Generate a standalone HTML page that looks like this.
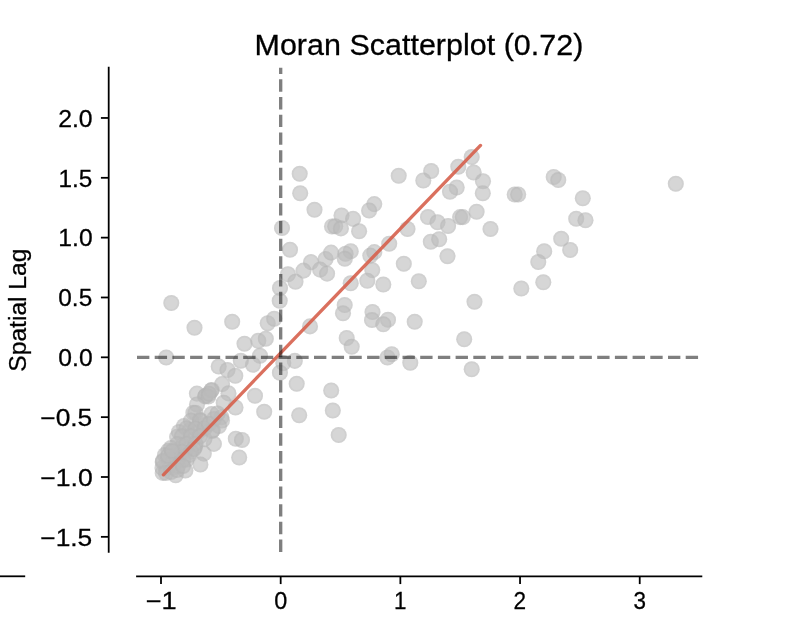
<!DOCTYPE html><html><head><meta charset="utf-8"><style>html,body{margin:0;padding:0;background:#fff;}svg{display:block;}text{font-family:"Liberation Sans",sans-serif;font-kerning:none;fill:#000;stroke:#000;stroke-width:0.28px;}svg{will-change:transform;}.f{fill:#bababa;fill-opacity:.6}.r{fill:none;stroke:#a0a0a0;stroke-opacity:.1;stroke-width:1.6}</style></head><body>
<svg width="797" height="618" viewBox="0 0 797 618">
<rect width="797" height="618" fill="#fff"/>
<g>
<circle class="f" cx="299.70" cy="173.80" r="8.05"/><circle class="r" cx="299.70" cy="173.80" r="7.1"/>
<circle class="f" cx="300.20" cy="193.30" r="8.05"/><circle class="r" cx="300.20" cy="193.30" r="7.1"/>
<circle class="f" cx="314.50" cy="209.70" r="8.05"/><circle class="r" cx="314.50" cy="209.70" r="7.1"/>
<circle class="f" cx="374.30" cy="204.10" r="8.05"/><circle class="r" cx="374.30" cy="204.10" r="7.1"/>
<circle class="f" cx="369.10" cy="210.50" r="8.05"/><circle class="r" cx="369.10" cy="210.50" r="7.1"/>
<circle class="f" cx="341.50" cy="215.50" r="8.05"/><circle class="r" cx="341.50" cy="215.50" r="7.1"/>
<circle class="f" cx="353.10" cy="218.90" r="8.05"/><circle class="r" cx="353.10" cy="218.90" r="7.1"/>
<circle class="f" cx="282.00" cy="228.00" r="8.05"/><circle class="r" cx="282.00" cy="228.00" r="7.1"/>
<circle class="f" cx="332.00" cy="226.50" r="8.05"/><circle class="r" cx="332.00" cy="226.50" r="7.1"/>
<circle class="f" cx="335.20" cy="226.30" r="8.05"/><circle class="r" cx="335.20" cy="226.30" r="7.1"/>
<circle class="f" cx="340.90" cy="228.40" r="8.05"/><circle class="r" cx="340.90" cy="228.40" r="7.1"/>
<circle class="f" cx="359.10" cy="231.20" r="8.05"/><circle class="r" cx="359.10" cy="231.20" r="7.1"/>
<circle class="f" cx="398.70" cy="175.80" r="8.05"/><circle class="r" cx="398.70" cy="175.80" r="7.1"/>
<circle class="f" cx="431.20" cy="171.00" r="8.05"/><circle class="r" cx="431.20" cy="171.00" r="7.1"/>
<circle class="f" cx="423.30" cy="180.50" r="8.05"/><circle class="r" cx="423.30" cy="180.50" r="7.1"/>
<circle class="f" cx="458.30" cy="166.70" r="8.05"/><circle class="r" cx="458.30" cy="166.70" r="7.1"/>
<circle class="f" cx="471.70" cy="157.00" r="8.05"/><circle class="r" cx="471.70" cy="157.00" r="7.1"/>
<circle class="f" cx="473.70" cy="172.50" r="8.05"/><circle class="r" cx="473.70" cy="172.50" r="7.1"/>
<circle class="f" cx="483.00" cy="181.20" r="8.05"/><circle class="r" cx="483.00" cy="181.20" r="7.1"/>
<circle class="f" cx="456.70" cy="187.50" r="8.05"/><circle class="r" cx="456.70" cy="187.50" r="7.1"/>
<circle class="f" cx="450.00" cy="191.70" r="8.05"/><circle class="r" cx="450.00" cy="191.70" r="7.1"/>
<circle class="f" cx="482.80" cy="193.30" r="8.05"/><circle class="r" cx="482.80" cy="193.30" r="7.1"/>
<circle class="f" cx="428.00" cy="217.00" r="8.05"/><circle class="r" cx="428.00" cy="217.00" r="7.1"/>
<circle class="f" cx="437.50" cy="222.20" r="8.05"/><circle class="r" cx="437.50" cy="222.20" r="7.1"/>
<circle class="f" cx="448.10" cy="226.00" r="8.05"/><circle class="r" cx="448.10" cy="226.00" r="7.1"/>
<circle class="f" cx="407.50" cy="229.00" r="8.05"/><circle class="r" cx="407.50" cy="229.00" r="7.1"/>
<circle class="f" cx="490.50" cy="229.00" r="8.05"/><circle class="r" cx="490.50" cy="229.00" r="7.1"/>
<circle class="f" cx="476.60" cy="211.70" r="8.05"/><circle class="r" cx="476.60" cy="211.70" r="7.1"/>
<circle class="f" cx="460.10" cy="217.10" r="8.05"/><circle class="r" cx="460.10" cy="217.10" r="7.1"/>
<circle class="f" cx="462.80" cy="217.10" r="8.05"/><circle class="r" cx="462.80" cy="217.10" r="7.1"/>
<circle class="f" cx="514.70" cy="194.50" r="8.05"/><circle class="r" cx="514.70" cy="194.50" r="7.1"/>
<circle class="f" cx="518.20" cy="194.50" r="8.05"/><circle class="r" cx="518.20" cy="194.50" r="7.1"/>
<circle class="f" cx="553.70" cy="177.00" r="8.05"/><circle class="r" cx="553.70" cy="177.00" r="7.1"/>
<circle class="f" cx="558.30" cy="180.00" r="8.05"/><circle class="r" cx="558.30" cy="180.00" r="7.1"/>
<circle class="f" cx="582.80" cy="198.30" r="8.05"/><circle class="r" cx="582.80" cy="198.30" r="7.1"/>
<circle class="f" cx="576.20" cy="218.70" r="8.05"/><circle class="r" cx="576.20" cy="218.70" r="7.1"/>
<circle class="f" cx="585.50" cy="220.20" r="8.05"/><circle class="r" cx="585.50" cy="220.20" r="7.1"/>
<circle class="f" cx="561.20" cy="238.70" r="8.05"/><circle class="r" cx="561.20" cy="238.70" r="7.1"/>
<circle class="f" cx="544.20" cy="251.20" r="8.05"/><circle class="r" cx="544.20" cy="251.20" r="7.1"/>
<circle class="f" cx="570.20" cy="250.00" r="8.05"/><circle class="r" cx="570.20" cy="250.00" r="7.1"/>
<circle class="f" cx="675.80" cy="183.80" r="8.05"/><circle class="r" cx="675.80" cy="183.80" r="7.1"/>
<circle class="f" cx="171.30" cy="303.00" r="8.05"/><circle class="r" cx="171.30" cy="303.00" r="7.1"/>
<circle class="f" cx="194.50" cy="327.70" r="8.05"/><circle class="r" cx="194.50" cy="327.70" r="7.1"/>
<circle class="f" cx="232.20" cy="321.70" r="8.05"/><circle class="r" cx="232.20" cy="321.70" r="7.1"/>
<circle class="f" cx="267.70" cy="323.30" r="8.05"/><circle class="r" cx="267.70" cy="323.30" r="7.1"/>
<circle class="f" cx="274.20" cy="318.80" r="8.05"/><circle class="r" cx="274.20" cy="318.80" r="7.1"/>
<circle class="f" cx="290.00" cy="249.70" r="8.05"/><circle class="r" cx="290.00" cy="249.70" r="7.1"/>
<circle class="f" cx="311.00" cy="262.10" r="8.05"/><circle class="r" cx="311.00" cy="262.10" r="7.1"/>
<circle class="f" cx="325.60" cy="259.10" r="8.05"/><circle class="r" cx="325.60" cy="259.10" r="7.1"/>
<circle class="f" cx="331.10" cy="252.60" r="8.05"/><circle class="r" cx="331.10" cy="252.60" r="7.1"/>
<circle class="f" cx="350.70" cy="251.20" r="8.05"/><circle class="r" cx="350.70" cy="251.20" r="7.1"/>
<circle class="f" cx="345.50" cy="253.80" r="8.05"/><circle class="r" cx="345.50" cy="253.80" r="7.1"/>
<circle class="f" cx="344.80" cy="258.70" r="8.05"/><circle class="r" cx="344.80" cy="258.70" r="7.1"/>
<circle class="f" cx="374.30" cy="252.10" r="8.05"/><circle class="r" cx="374.30" cy="252.10" r="7.1"/>
<circle class="f" cx="370.30" cy="255.60" r="8.05"/><circle class="r" cx="370.30" cy="255.60" r="7.1"/>
<circle class="f" cx="389.20" cy="243.70" r="8.05"/><circle class="r" cx="389.20" cy="243.70" r="7.1"/>
<circle class="f" cx="403.80" cy="263.80" r="8.05"/><circle class="r" cx="403.80" cy="263.80" r="7.1"/>
<circle class="f" cx="288.00" cy="274.20" r="8.05"/><circle class="r" cx="288.00" cy="274.20" r="7.1"/>
<circle class="f" cx="303.50" cy="270.60" r="8.05"/><circle class="r" cx="303.50" cy="270.60" r="7.1"/>
<circle class="f" cx="320.10" cy="269.60" r="8.05"/><circle class="r" cx="320.10" cy="269.60" r="7.1"/>
<circle class="f" cx="327.10" cy="273.60" r="8.05"/><circle class="r" cx="327.10" cy="273.60" r="7.1"/>
<circle class="f" cx="295.50" cy="281.70" r="8.05"/><circle class="r" cx="295.50" cy="281.70" r="7.1"/>
<circle class="f" cx="280.00" cy="288.00" r="8.05"/><circle class="r" cx="280.00" cy="288.00" r="7.1"/>
<circle class="f" cx="279.70" cy="300.80" r="8.05"/><circle class="r" cx="279.70" cy="300.80" r="7.1"/>
<circle class="f" cx="372.30" cy="270.10" r="8.05"/><circle class="r" cx="372.30" cy="270.10" r="7.1"/>
<circle class="f" cx="367.30" cy="280.70" r="8.05"/><circle class="r" cx="367.30" cy="280.70" r="7.1"/>
<circle class="f" cx="350.70" cy="283.20" r="8.05"/><circle class="r" cx="350.70" cy="283.20" r="7.1"/>
<circle class="f" cx="383.30" cy="284.50" r="8.05"/><circle class="r" cx="383.30" cy="284.50" r="7.1"/>
<circle class="f" cx="344.70" cy="305.00" r="8.05"/><circle class="r" cx="344.70" cy="305.00" r="7.1"/>
<circle class="f" cx="343.00" cy="313.30" r="8.05"/><circle class="r" cx="343.00" cy="313.30" r="7.1"/>
<circle class="f" cx="372.50" cy="312.00" r="8.05"/><circle class="r" cx="372.50" cy="312.00" r="7.1"/>
<circle class="f" cx="372.00" cy="320.00" r="8.05"/><circle class="r" cx="372.00" cy="320.00" r="7.1"/>
<circle class="f" cx="388.00" cy="319.70" r="8.05"/><circle class="r" cx="388.00" cy="319.70" r="7.1"/>
<circle class="f" cx="383.30" cy="324.20" r="8.05"/><circle class="r" cx="383.30" cy="324.20" r="7.1"/>
<circle class="f" cx="310.00" cy="326.40" r="8.05"/><circle class="r" cx="310.00" cy="326.40" r="7.1"/>
<circle class="f" cx="430.80" cy="241.70" r="8.05"/><circle class="r" cx="430.80" cy="241.70" r="7.1"/>
<circle class="f" cx="439.20" cy="239.20" r="8.05"/><circle class="r" cx="439.20" cy="239.20" r="7.1"/>
<circle class="f" cx="447.50" cy="256.20" r="8.05"/><circle class="r" cx="447.50" cy="256.20" r="7.1"/>
<circle class="f" cx="418.80" cy="281.30" r="8.05"/><circle class="r" cx="418.80" cy="281.30" r="7.1"/>
<circle class="f" cx="474.50" cy="301.80" r="8.05"/><circle class="r" cx="474.50" cy="301.80" r="7.1"/>
<circle class="f" cx="414.70" cy="321.70" r="8.05"/><circle class="r" cx="414.70" cy="321.70" r="7.1"/>
<circle class="f" cx="538.30" cy="262.00" r="8.05"/><circle class="r" cx="538.30" cy="262.00" r="7.1"/>
<circle class="f" cx="543.30" cy="282.20" r="8.05"/><circle class="r" cx="543.30" cy="282.20" r="7.1"/>
<circle class="f" cx="521.30" cy="288.50" r="8.05"/><circle class="r" cx="521.30" cy="288.50" r="7.1"/>
<circle class="f" cx="166.20" cy="357.50" r="8.05"/><circle class="r" cx="166.20" cy="357.50" r="7.1"/>
<circle class="f" cx="244.50" cy="343.70" r="8.05"/><circle class="r" cx="244.50" cy="343.70" r="7.1"/>
<circle class="f" cx="258.30" cy="340.80" r="8.05"/><circle class="r" cx="258.30" cy="340.80" r="7.1"/>
<circle class="f" cx="265.80" cy="338.70" r="8.05"/><circle class="r" cx="265.80" cy="338.70" r="7.1"/>
<circle class="f" cx="260.00" cy="355.80" r="8.05"/><circle class="r" cx="260.00" cy="355.80" r="7.1"/>
<circle class="f" cx="253.00" cy="364.70" r="8.05"/><circle class="r" cx="253.00" cy="364.70" r="7.1"/>
<circle class="f" cx="240.80" cy="360.80" r="8.05"/><circle class="r" cx="240.80" cy="360.80" r="7.1"/>
<circle class="f" cx="218.70" cy="366.50" r="8.05"/><circle class="r" cx="218.70" cy="366.50" r="7.1"/>
<circle class="f" cx="227.50" cy="370.00" r="8.05"/><circle class="r" cx="227.50" cy="370.00" r="7.1"/>
<circle class="f" cx="235.30" cy="375.80" r="8.05"/><circle class="r" cx="235.30" cy="375.80" r="7.1"/>
<circle class="f" cx="255.00" cy="395.80" r="8.05"/><circle class="r" cx="255.00" cy="395.80" r="7.1"/>
<circle class="f" cx="264.20" cy="411.70" r="8.05"/><circle class="r" cx="264.20" cy="411.70" r="7.1"/>
<circle class="f" cx="235.50" cy="407.50" r="8.05"/><circle class="r" cx="235.50" cy="407.50" r="7.1"/>
<circle class="f" cx="346.70" cy="338.00" r="8.05"/><circle class="r" cx="346.70" cy="338.00" r="7.1"/>
<circle class="f" cx="351.70" cy="346.70" r="8.05"/><circle class="r" cx="351.70" cy="346.70" r="7.1"/>
<circle class="f" cx="294.80" cy="360.90" r="8.05"/><circle class="r" cx="294.80" cy="360.90" r="7.1"/>
<circle class="f" cx="283.30" cy="363.10" r="8.05"/><circle class="r" cx="283.30" cy="363.10" r="7.1"/>
<circle class="f" cx="279.90" cy="372.70" r="8.05"/><circle class="r" cx="279.90" cy="372.70" r="7.1"/>
<circle class="f" cx="296.70" cy="383.80" r="8.05"/><circle class="r" cx="296.70" cy="383.80" r="7.1"/>
<circle class="f" cx="331.20" cy="390.50" r="8.05"/><circle class="r" cx="331.20" cy="390.50" r="7.1"/>
<circle class="f" cx="332.80" cy="410.50" r="8.05"/><circle class="r" cx="332.80" cy="410.50" r="7.1"/>
<circle class="f" cx="299.20" cy="415.30" r="8.05"/><circle class="r" cx="299.20" cy="415.30" r="7.1"/>
<circle class="f" cx="387.50" cy="357.50" r="8.05"/><circle class="r" cx="387.50" cy="357.50" r="7.1"/>
<circle class="f" cx="391.70" cy="354.20" r="8.05"/><circle class="r" cx="391.70" cy="354.20" r="7.1"/>
<circle class="f" cx="464.20" cy="339.20" r="8.05"/><circle class="r" cx="464.20" cy="339.20" r="7.1"/>
<circle class="f" cx="410.30" cy="362.80" r="8.05"/><circle class="r" cx="410.30" cy="362.80" r="7.1"/>
<circle class="f" cx="471.70" cy="369.20" r="8.05"/><circle class="r" cx="471.70" cy="369.20" r="7.1"/>
<circle class="f" cx="338.70" cy="435.00" r="8.05"/><circle class="r" cx="338.70" cy="435.00" r="7.1"/>
<circle class="f" cx="235.80" cy="438.70" r="8.05"/><circle class="r" cx="235.80" cy="438.70" r="7.1"/>
<circle class="f" cx="242.00" cy="440.00" r="8.05"/><circle class="r" cx="242.00" cy="440.00" r="7.1"/>
<circle class="f" cx="239.20" cy="457.50" r="8.05"/><circle class="r" cx="239.20" cy="457.50" r="7.1"/>
<circle class="f" cx="222.10" cy="384.10" r="8.05"/><circle class="r" cx="222.10" cy="384.10" r="7.1"/>
<circle class="f" cx="228.50" cy="393.40" r="8.05"/><circle class="r" cx="228.50" cy="393.40" r="7.1"/>
<circle class="f" cx="196.90" cy="393.60" r="8.05"/><circle class="r" cx="196.90" cy="393.60" r="7.1"/>
<circle class="f" cx="205.10" cy="396.40" r="8.05"/><circle class="r" cx="205.10" cy="396.40" r="7.1"/>
<circle class="f" cx="205.70" cy="395.80" r="8.05"/><circle class="r" cx="205.70" cy="395.80" r="7.1"/>
<circle class="f" cx="211.10" cy="390.60" r="8.05"/><circle class="r" cx="211.10" cy="390.60" r="7.1"/>
<circle class="f" cx="211.70" cy="390.00" r="8.05"/><circle class="r" cx="211.70" cy="390.00" r="7.1"/>
<circle class="f" cx="223.70" cy="402.70" r="8.05"/><circle class="r" cx="223.70" cy="402.70" r="7.1"/>
<circle class="f" cx="197.00" cy="404.50" r="8.05"/><circle class="r" cx="197.00" cy="404.50" r="7.1"/>
<circle class="f" cx="193.40" cy="412.80" r="8.05"/><circle class="r" cx="193.40" cy="412.80" r="7.1"/>
<circle class="f" cx="211.60" cy="414.00" r="8.05"/><circle class="r" cx="211.60" cy="414.00" r="7.1"/>
<circle class="f" cx="221.30" cy="417.20" r="8.05"/><circle class="r" cx="221.30" cy="417.20" r="7.1"/>
<circle class="f" cx="184.00" cy="426.00" r="8.05"/><circle class="r" cx="184.00" cy="426.00" r="7.1"/>
<circle class="f" cx="177.10" cy="436.90" r="8.05"/><circle class="r" cx="177.10" cy="436.90" r="7.1"/>
<circle class="f" cx="168.40" cy="450.70" r="8.05"/><circle class="r" cx="168.40" cy="450.70" r="7.1"/>
<circle class="f" cx="222.00" cy="420.50" r="8.05"/><circle class="r" cx="222.00" cy="420.50" r="7.1"/>
<circle class="f" cx="212.90" cy="430.10" r="8.05"/><circle class="r" cx="212.90" cy="430.10" r="7.1"/>
<circle class="f" cx="213.90" cy="443.90" r="8.05"/><circle class="r" cx="213.90" cy="443.90" r="7.1"/>
<circle class="f" cx="203.80" cy="453.60" r="8.05"/><circle class="r" cx="203.80" cy="453.60" r="7.1"/>
<circle class="f" cx="200.40" cy="464.50" r="8.05"/><circle class="r" cx="200.40" cy="464.50" r="7.1"/>
<circle class="f" cx="204.40" cy="439.00" r="8.05"/><circle class="r" cx="204.40" cy="439.00" r="7.1"/>
<circle class="f" cx="162.70" cy="472.90" r="8.05"/><circle class="r" cx="162.70" cy="472.90" r="7.1"/>
<circle class="f" cx="175.70" cy="475.30" r="8.05"/><circle class="r" cx="175.70" cy="475.30" r="7.1"/>
<circle class="f" cx="185.40" cy="470.50" r="8.05"/><circle class="r" cx="185.40" cy="470.50" r="7.1"/>
<circle class="f" cx="162.70" cy="462.00" r="8.05"/><circle class="r" cx="162.70" cy="462.00" r="7.1"/>
<circle class="f" cx="179.00" cy="432.00" r="8.05"/><circle class="r" cx="179.00" cy="432.00" r="7.1"/>
<circle class="f" cx="170.00" cy="465.00" r="8.05"/><circle class="r" cx="170.00" cy="465.00" r="7.1"/>
<circle class="f" cx="178.00" cy="458.00" r="8.05"/><circle class="r" cx="178.00" cy="458.00" r="7.1"/>
<circle class="f" cx="186.00" cy="450.00" r="8.05"/><circle class="r" cx="186.00" cy="450.00" r="7.1"/>
<circle class="f" cx="192.00" cy="440.00" r="8.05"/><circle class="r" cx="192.00" cy="440.00" r="7.1"/>
<circle class="f" cx="198.00" cy="432.00" r="8.05"/><circle class="r" cx="198.00" cy="432.00" r="7.1"/>
<circle class="f" cx="205.00" cy="425.00" r="8.05"/><circle class="r" cx="205.00" cy="425.00" r="7.1"/>
<circle class="f" cx="190.00" cy="430.00" r="8.05"/><circle class="r" cx="190.00" cy="430.00" r="7.1"/>
<circle class="f" cx="183.00" cy="445.00" r="8.05"/><circle class="r" cx="183.00" cy="445.00" r="7.1"/>
<circle class="f" cx="175.00" cy="455.00" r="8.05"/><circle class="r" cx="175.00" cy="455.00" r="7.1"/>
<circle class="f" cx="195.00" cy="447.00" r="8.05"/><circle class="r" cx="195.00" cy="447.00" r="7.1"/>
<circle class="f" cx="200.00" cy="420.00" r="8.05"/><circle class="r" cx="200.00" cy="420.00" r="7.1"/>
<circle class="f" cx="195.50" cy="412.79" r="8.05"/><circle class="r" cx="195.50" cy="412.79" r="7.1"/>
<circle class="f" cx="191.00" cy="420.59" r="8.05"/><circle class="r" cx="191.00" cy="420.59" r="7.1"/>
<circle class="f" cx="200.00" cy="420.59" r="8.05"/><circle class="r" cx="200.00" cy="420.59" r="7.1"/>
<circle class="f" cx="186.50" cy="428.38" r="8.05"/><circle class="r" cx="186.50" cy="428.38" r="7.1"/>
<circle class="f" cx="195.50" cy="428.38" r="8.05"/><circle class="r" cx="195.50" cy="428.38" r="7.1"/>
<circle class="f" cx="204.50" cy="428.38" r="8.05"/><circle class="r" cx="204.50" cy="428.38" r="7.1"/>
<circle class="f" cx="182.00" cy="436.18" r="8.05"/><circle class="r" cx="182.00" cy="436.18" r="7.1"/>
<circle class="f" cx="191.00" cy="436.18" r="8.05"/><circle class="r" cx="191.00" cy="436.18" r="7.1"/>
<circle class="f" cx="200.00" cy="436.18" r="8.05"/><circle class="r" cx="200.00" cy="436.18" r="7.1"/>
<circle class="f" cx="177.50" cy="443.97" r="8.05"/><circle class="r" cx="177.50" cy="443.97" r="7.1"/>
<circle class="f" cx="186.50" cy="443.97" r="8.05"/><circle class="r" cx="186.50" cy="443.97" r="7.1"/>
<circle class="f" cx="195.50" cy="443.97" r="8.05"/><circle class="r" cx="195.50" cy="443.97" r="7.1"/>
<circle class="f" cx="173.00" cy="451.76" r="8.05"/><circle class="r" cx="173.00" cy="451.76" r="7.1"/>
<circle class="f" cx="182.00" cy="451.76" r="8.05"/><circle class="r" cx="182.00" cy="451.76" r="7.1"/>
<circle class="f" cx="191.00" cy="451.76" r="8.05"/><circle class="r" cx="191.00" cy="451.76" r="7.1"/>
<circle class="f" cx="168.50" cy="459.56" r="8.05"/><circle class="r" cx="168.50" cy="459.56" r="7.1"/>
<circle class="f" cx="177.50" cy="459.56" r="8.05"/><circle class="r" cx="177.50" cy="459.56" r="7.1"/>
<circle class="f" cx="186.50" cy="459.56" r="8.05"/><circle class="r" cx="186.50" cy="459.56" r="7.1"/>
<circle class="f" cx="173.00" cy="467.35" r="8.05"/><circle class="r" cx="173.00" cy="467.35" r="7.1"/>
<circle class="f" cx="166.00" cy="468.00" r="8.05"/><circle class="r" cx="166.00" cy="468.00" r="7.1"/>
<circle class="f" cx="171.00" cy="464.00" r="8.05"/><circle class="r" cx="171.00" cy="464.00" r="7.1"/>
<circle class="f" cx="178.00" cy="466.00" r="8.05"/><circle class="r" cx="178.00" cy="466.00" r="7.1"/>
<circle class="f" cx="183.00" cy="460.00" r="8.05"/><circle class="r" cx="183.00" cy="460.00" r="7.1"/>
<circle class="f" cx="189.00" cy="455.00" r="8.05"/><circle class="r" cx="189.00" cy="455.00" r="7.1"/>
<circle class="f" cx="194.00" cy="449.00" r="8.05"/><circle class="r" cx="194.00" cy="449.00" r="7.1"/>
<circle class="f" cx="165.00" cy="455.00" r="8.05"/><circle class="r" cx="165.00" cy="455.00" r="7.1"/>
<circle class="f" cx="171.00" cy="448.00" r="8.05"/><circle class="r" cx="171.00" cy="448.00" r="7.1"/>
<circle class="f" cx="214.00" cy="419.00" r="8.05"/><circle class="r" cx="214.00" cy="419.00" r="7.1"/>
<circle class="f" cx="209.00" cy="424.00" r="8.05"/><circle class="r" cx="209.00" cy="424.00" r="7.1"/>
<circle class="f" cx="219.00" cy="426.00" r="8.05"/><circle class="r" cx="219.00" cy="426.00" r="7.1"/>
<circle class="f" cx="212.00" cy="431.00" r="8.05"/><circle class="r" cx="212.00" cy="431.00" r="7.1"/>
<circle class="f" cx="217.50" cy="413.50" r="8.05"/><circle class="r" cx="217.50" cy="413.50" r="7.1"/>
<circle class="f" cx="208.30" cy="396.50" r="8.05"/><circle class="r" cx="208.30" cy="396.50" r="7.1"/>
<circle class="f" cx="209.00" cy="393.80" r="8.05"/><circle class="r" cx="209.00" cy="393.80" r="7.1"/>
<circle class="f" cx="162.50" cy="468.00" r="8.05"/><circle class="r" cx="162.50" cy="468.00" r="7.1"/>
<circle class="f" cx="163.00" cy="461.00" r="8.05"/><circle class="r" cx="163.00" cy="461.00" r="7.1"/>
<circle class="f" cx="166.00" cy="473.00" r="8.05"/><circle class="r" cx="166.00" cy="473.00" r="7.1"/>
<circle class="f" cx="168.00" cy="456.00" r="8.05"/><circle class="r" cx="168.00" cy="456.00" r="7.1"/>
<circle class="f" cx="172.00" cy="451.00" r="8.05"/><circle class="r" cx="172.00" cy="451.00" r="7.1"/>
<circle class="f" cx="171.00" cy="472.00" r="8.05"/><circle class="r" cx="171.00" cy="472.00" r="7.1"/>
<circle class="f" cx="177.00" cy="470.00" r="8.05"/><circle class="r" cx="177.00" cy="470.00" r="7.1"/>
<circle class="f" cx="183.00" cy="466.00" r="8.05"/><circle class="r" cx="183.00" cy="466.00" r="7.1"/>
</g>
<line x1="163.4" y1="474.8" x2="480.5" y2="145.4" stroke="#d6604d" stroke-opacity="0.9" stroke-width="3.34" stroke-linecap="round"/>
<line x1="280.68" y1="551.9" x2="280.68" y2="67.7" stroke="#000" stroke-opacity="0.5" stroke-width="3.34" stroke-dasharray="12.36 5.34"/>
<line x1="137.0" y1="357.32" x2="701.4" y2="357.32" stroke="#000" stroke-opacity="0.5" stroke-width="3.34" stroke-dasharray="12.36 5.34"/>
<g stroke="#000" stroke-width="1.78" stroke-linecap="square" fill="none">
<line x1="108.7" y1="67.7" x2="108.7" y2="551.9"/>
<line x1="137.0" y1="576.3" x2="701.4" y2="576.3"/>
<line x1="-5" y1="576.3" x2="24.3" y2="576.3"/>
</g>
<g stroke="#000" stroke-width="1.78" fill="none">
<line x1="100.92" y1="117.96" x2="108.7" y2="117.96"/>
<line x1="100.92" y1="177.80" x2="108.7" y2="177.80"/>
<line x1="100.92" y1="237.64" x2="108.7" y2="237.64"/>
<line x1="100.92" y1="297.48" x2="108.7" y2="297.48"/>
<line x1="100.92" y1="357.32" x2="108.7" y2="357.32"/>
<line x1="100.92" y1="417.16" x2="108.7" y2="417.16"/>
<line x1="100.92" y1="477.00" x2="108.7" y2="477.00"/>
<line x1="100.92" y1="536.84" x2="108.7" y2="536.84"/>
<line x1="161.00" y1="576.3" x2="161.00" y2="584.08"/>
<line x1="280.68" y1="576.3" x2="280.68" y2="584.08"/>
<line x1="400.36" y1="576.3" x2="400.36" y2="584.08"/>
<line x1="520.04" y1="576.3" x2="520.04" y2="584.08"/>
<line x1="639.72" y1="576.3" x2="639.72" y2="584.08"/>
</g>
<text transform="translate(58.18,126.66) scale(1.0525,1)" font-size="23.54">2.0</text>
<text transform="translate(58.39,186.50) scale(1.0336,1)" font-size="23.54">1.5</text>
<text transform="translate(58.37,246.34) scale(1.0468,1)" font-size="23.54">1.0</text>
<text transform="translate(58.31,306.18) scale(1.0360,1)" font-size="23.54">0.5</text>
<text transform="translate(58.30,366.02) scale(1.0488,1)" font-size="23.54">0.0</text>
<text transform="translate(40.24,425.86) scale(1.1202,1)" font-size="23.54">−0.5</text>
<text transform="translate(40.23,485.70) scale(1.1290,1)" font-size="23.54">−1.0</text>
<text transform="translate(40.24,545.54) scale(1.1202,1)" font-size="23.54">−1.5</text>
<text transform="translate(145.64,608.80) scale(1.1556,1)" font-size="23.54">−1</text>
<text transform="translate(274.16,608.80) scale(0.9949,1)" font-size="23.54">0</text>
<text transform="translate(394.03,608.80) scale(0.9502,1)" font-size="23.54">1</text>
<text transform="translate(513.46,608.80) scale(0.9589,1)" font-size="23.54">2</text>
<text transform="translate(633.49,608.80) scale(0.9554,1)" font-size="23.54">3</text>
<text transform="translate(254.50,54.6) scale(1.0509,1)" font-size="29.03">Moran Scatterplot (0.72)</text>
<text transform="translate(26.0,370.60) rotate(-90) scale(1.0458,1) translate(-1.07,0)" font-size="23.54">Spatial Lag</text>
</svg></body></html>
